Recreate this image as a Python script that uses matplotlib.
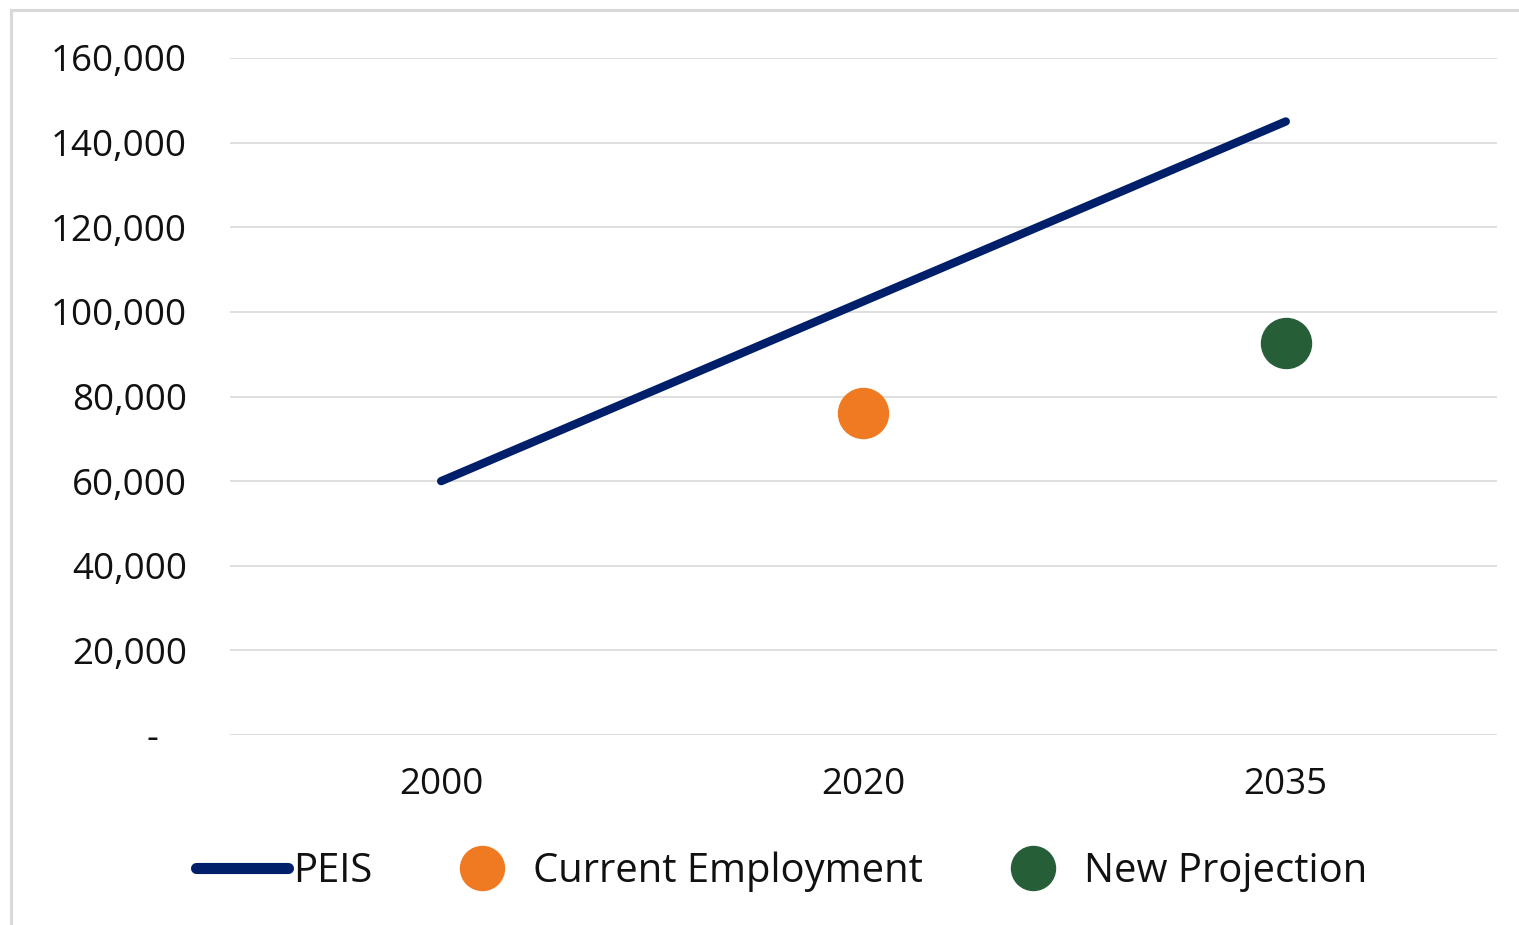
import matplotlib.pyplot as plt
from matplotlib.lines import Line2D
from matplotlib.ticker import FuncFormatter

plt.rcParams["font.family"] = ["Open Sans", "DejaVu Sans"]

years = ["2000", "2020", "2035"]
peis = [60000, 102500, 145000]
current_x = ["2020"]
current_y = [76000]
newproj_x = ["2035"]
newproj_y = [92700]

navy = "#001F6B"
orange = "#EF7A22"
green = "#265E37"
grid_c = "#D9D9D9"

fig = plt.figure(figsize=(15.19, 9.25), dpi=100)
ax = fig.add_axes([0.1514, 0.2054, 0.8341, 0.7319])

xpos = {y: i for i, y in enumerate(years)}
ax.plot([xpos[y] for y in years], peis, color=navy, lw=6,
        solid_capstyle="round", label="PEIS", zorder=3)
ax.plot([xpos[y] for y in current_x], current_y, "o", color=orange, ms=36,
        ls="none", label="Current Employment", zorder=4)
ax.plot([xpos[y] for y in newproj_x], newproj_y, "o", color=green, ms=36,
        ls="none", label="New Projection", zorder=4)

ax.set_xlim(-0.5, 2.5)
ax.set_ylim(0, 160000)
ax.set_xticks(range(len(years)))
ax.set_xticklabels(years)
ax.set_yticks(range(0, 160001, 20000))
ax.yaxis.set_major_formatter(FuncFormatter(
    lambda v, p: "-   " if v == 0 else f"{int(v):,}"))
ax.grid(axis="y", color=grid_c, lw=1.2)
ax.set_axisbelow(True)
for s in ax.spines.values():
    s.set_visible(False)
ax.tick_params(axis="both", length=0, labelsize=26.5, colors="#111111")
ax.tick_params(axis="y", pad=31)
ax.tick_params(axis="x", pad=23)

leg = fig.legend(loc="center", bbox_to_anchor=(0.5145, 0.058), ncol=3,
                 frameon=False, fontsize=28.8, handlelength=2.3,
                 handletextpad=0.12, columnspacing=1.6, markerscale=0.88)
leg.get_lines()[0].set_linewidth(8)
for t in leg.get_texts():
    t.set_color("#111111")

# grey outer border (cropped on right/bottom)
fig.add_artist(Line2D([11 / 1519, 11 / 1519], [0, 1 - 10 / 925],
                      transform=fig.transFigure, color=grid_c, lw=2.2))
fig.add_artist(Line2D([11 / 1519, 1], [1 - 10 / 925, 1 - 10 / 925],
                      transform=fig.transFigure, color=grid_c, lw=2.2))

fig.savefig("out.png", dpi=100)
